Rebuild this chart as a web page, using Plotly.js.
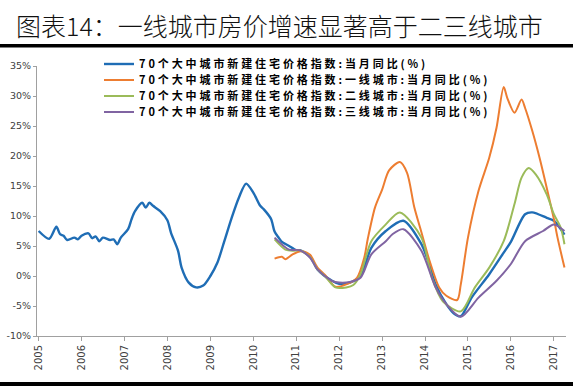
<!DOCTYPE html>
<html>
<head>
<meta charset="utf-8">
<script src="https://cdn.plot.ly/plotly-3.0.1.min.js"></script>
<style>
html,body{margin:0;padding:0;background:#fff;}
#chart{width:573px;height:387px;}
</style>
</head>
<body>
<div id="chart"></div>
<script>
// ---- data ----
const titleText = '图表14：一线城市房价增速显著高于二三线城市';
const seriesNames = [
  '70个大中城市新建住宅价格指数:当月同比(%)',
  '70个大中城市新建住宅价格指数:一线城市:当月同比(%)',
  '70个大中城市新建住宅价格指数:二线城市:当月同比(%)',
  '70个大中城市新建住宅价格指数:三线城市:当月同比(%)'
];
const seriesColors = ['#1f6db5', '#ed7d31', '#9bbb59', '#8064a2'];

const nationalDates = ['2005-01','2005-04','2005-06','2005-07','2005-08','2005-09','2005-11','2005-12',
  '2006-01','2006-03','2006-04','2006-05','2006-06','2006-07','2006-09','2006-10','2006-11','2006-12',
  '2007-02','2007-03','2007-04','2007-06','2007-07','2007-08','2007-09','2007-11',
  '2008-01','2008-02','2008-04','2008-05','2008-07','2008-09','2008-11',
  '2009-01','2009-03','2009-05','2009-07','2009-09','2009-11',
  '2010-01','2010-03','2010-04','2010-06','2010-07','2010-08','2010-09','2010-11',
  '2011-01','2011-02','2011-05','2011-07','2011-11',
  '2012-01','2012-04','2012-07','2012-10',
  '2013-02','2013-07','2013-12',
  '2014-02','2014-04','2014-07','2014-09','2014-11',
  '2015-02','2015-07','2015-11',
  '2016-01','2016-05','2016-07','2016-11',
  '2017-01','2017-04'];
const nationalVals = [7.5,6.2,8.2,7.0,6.7,6.0,6.4,6.1,
  6.7,7.1,6.3,6.6,5.8,6.4,6.0,6.1,5.3,6.4,
  7.8,9.4,10.8,12.2,11.4,12.2,11.7,10.8,
  9.3,7.2,4.2,1.4,-1.1,-1.9,-1.6,
  0.0,2.2,5.9,9.7,13.1,15.4,
  13.9,11.7,11.1,9.5,7.4,6.5,5.7,5.0,
  4.3,4.3,3.2,1.1,-0.8,
  -1.3,-1.1,0.0,4.7,
  7.5,9.2,5.3,
  2.2,-1.4,-4.7,-6.2,-6.7,
  -3.6,0.3,3.9,
  5.7,10.3,10.6,9.7,
  9.2,6.9];

const tier1Dates = ['2010-07','2010-09','2010-10','2010-12','2011-02','2011-04','2011-05','2011-07','2011-09','2011-12',
  '2012-03','2012-06','2012-08','2012-09','2012-11','2013-01','2013-03','2013-06','2013-08','2013-10','2013-12',
  '2014-02','2014-05','2014-07','2014-10','2014-11','2015-01','2015-04','2015-07','2015-09','2015-11','2015-12',
  '2016-02','2016-04','2016-05','2016-07','2016-09','2016-11','2017-01','2017-02','2017-04'];
const tier1Vals = [2.9,3.2,2.8,3.6,4.1,3.9,3.5,1.4,0.2,-1.8,
  -1.4,-0.3,3.0,6.2,11.4,14.4,17.6,19.0,17.2,11.5,7.3,
  3.0,-1.9,-3.3,-4.0,-1.4,6.4,14.2,19.7,24.7,31.5,29.7,
  27.2,29.4,28.0,24.2,19.7,14.7,9.5,6.4,1.4];

const tier2Dates = ['2010-07','2010-10','2010-12','2011-02','2011-05','2011-07','2011-09','2011-12',
  '2012-03','2012-05','2012-07','2012-10','2013-02','2013-06','2013-12',
  '2014-03','2014-06','2014-11','2015-03','2015-07','2015-11',
  '2016-02','2016-04','2016-06','2016-08','2016-11','2017-01','2017-03','2017-04'];
const tier2Vals = [6.1,4.4,4.2,4.3,3.1,1.1,0.0,-1.9,
  -1.9,-1.5,0.3,5.8,8.6,10.6,6.4,
  -0.3,-4.2,-5.9,-1.9,1.4,5.8,
  12.0,16.4,18.0,16.9,13.6,10.3,8.0,5.3];

const tier3Dates = ['2010-07','2010-11','2011-02','2011-05','2011-07','2011-11',
  '2012-01','2012-04','2012-07','2012-10','2013-02','2013-04','2013-07','2013-12',
  '2014-04','2014-07','2014-11','2015-04','2015-09',
  '2016-01','2016-05','2016-10','2017-01','2017-04'];
const tier3Vals = [6.4,4.4,4.3,3.0,1.1,-0.8,
  -1.1,-1.0,-0.3,3.6,5.8,7.0,7.8,4.2,
  -1.9,-4.7,-6.8,-3.6,-0.8,
  2.0,5.8,7.5,8.6,7.5];

const xTickVals = ['2005-01-01','2006-01-01','2007-01-01','2008-01-01','2009-01-01','2010-01-01','2011-01-01',
  '2012-01-01','2013-01-01','2014-01-01','2015-01-01','2016-01-01','2017-01-01'];
const xTickText = ['2005','2006','2007','2008','2009','2010','2011','2012','2013','2014','2015','2016','2017'];
const yTickVals = [-10,-5,0,5,10,15,20,25,30,35];
const yTickText = ['-10%','-5%','0%','5%','10%','15%','20%','25%','30%','35%'];

// ---- chart ----
const xs = [nationalDates, tier1Dates, tier2Dates, tier3Dates];
const ys = [nationalVals, tier1Vals, tier2Vals, tier3Vals];
const legendIds = ['legend','legend2','legend3','legend4'];
const widths = [2.4, 2, 2, 2];

const traces = seriesNames.map((name, i) => ({
  type: 'scatter', mode: 'lines', name: name,
  x: xs[i], y: ys[i],
  line: {color: seriesColors[i], width: widths[i], shape: 'spline', smoothing: 0.8},
  legend: legendIds[i], hoverinfo: 'skip'
}));

const W = 573, H = 387;
const M = {l: 37, r: 7, t: 66, b: 51};
const pw = W - M.l - M.r, ph = H - M.t - M.b;
const px2x = p => (p - M.l) / pw;
const py2y = p => (H - M.b - p) / ph;

const legendFont = {family: '"Noto Sans CJK SC", "Noto Sans", sans-serif', size: 11, color: '#000', weight: 'bold'};
const layout = {
  width: W, height: H,
  margin: {l: M.l, r: M.r, t: M.t, b: M.b, autoexpand: false},
  paper_bgcolor: '#fff', plot_bgcolor: '#fff',
  showlegend: true,
  title: {
    text: titleText, xref: 'container', x: 16 / W, xanchor: 'left',
    yref: 'container', y: 1 - 27 / H, yanchor: 'middle',
    font: {family: '"Noto Sans CJK SC", sans-serif', size: 25, color: '#111', weight: 300}
  },
  xaxis: {
    type: 'date', range: ['2004-12-18', '2017-04-14'],
    tickvals: xTickVals, ticktext: xTickText, tickangle: -90,
    ticks: 'outside', ticklen: 4, tickcolor: '#a0a0a0',
    showline: true, linecolor: '#a0a0a0', linewidth: 1,
    showgrid: false, zeroline: false,
    tickfont: {family: '"DejaVu Sans", sans-serif', size: 10, color: '#404040'}
  },
  yaxis: {
    range: [-10, 35], tickvals: yTickVals, ticktext: yTickText,
    ticks: 'outside', ticklen: 3, tickcolor: '#a0a0a0',
    showline: true, linecolor: '#a0a0a0', linewidth: 1,
    showgrid: false, zeroline: false,
    tickfont: {family: '"DejaVu Sans", sans-serif', size: 9.5, color: '#404040'}
  },
  shapes: [
    {type: 'rect', xref: 'paper', yref: 'paper', x0: px2x(0), x1: px2x(W), y0: py2y(47.5), y1: py2y(44), fillcolor: '#000', line: {width: 0}},
    {type: 'rect', xref: 'paper', yref: 'paper', x0: px2x(0), x1: px2x(W), y0: py2y(386), y1: py2y(382), fillcolor: '#000', line: {width: 0}}
  ]
};
const rowTops = [49.5, 65.5, 81.5, 97.5];
legendIds.forEach((id, i) => {
  layout[id] = {
    x: px2x(99), xanchor: 'left', y: py2y(rowTops[i]), yanchor: 'top',
    bgcolor: 'rgba(0,0,0,0)', borderwidth: 0, font: legendFont, itemclick: false
  };
});

Plotly.newPlot('chart', traces, layout, {displayModeBar: false, staticPlot: true}).then(() => {
  // widen legend lettering like the reference and drop the legend clip boxes
  document.querySelectorAll('#chart svg text').forEach(t => {
    if (seriesNames.indexOf(t.textContent) >= 0) t.style.letterSpacing = '2.9px';
  });
  document.querySelectorAll('#chart .infolayer [clip-path]').forEach(el => {
    if ((el.getAttribute('clip-path') || '').indexOf('legend') >= 0) el.removeAttribute('clip-path');
  });
});
</script>
</body>
</html>
